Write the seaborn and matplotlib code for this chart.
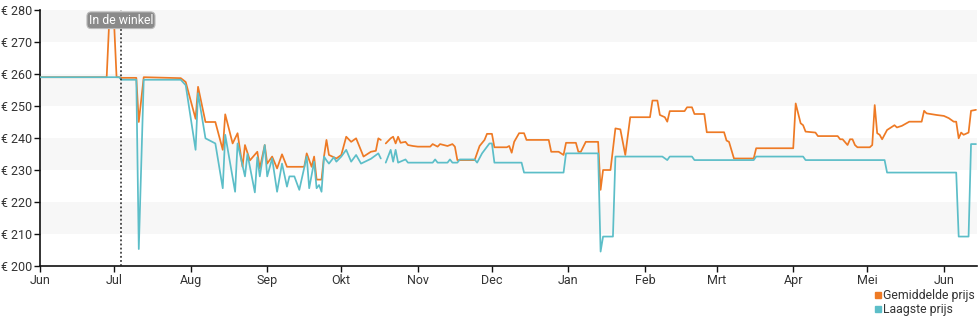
import numpy as np
import pandas as pd
import matplotlib
matplotlib.use("Agg")
import matplotlib.pyplot as plt
from matplotlib.lines import Line2D
import seaborn as sns

# ---------------- data ----------------
gem_datum = [
    "2023-06-01", "2023-06-28", "2023-06-29", "2023-07-01", "2023-07-02", "2023-07-03",
    "2023-07-04", "2023-07-10", "2023-07-11", "2023-07-13", "2023-07-28", "2023-07-30",
    "2023-08-03", "2023-08-04", "2023-08-07", "2023-08-11", "2023-08-14", "2023-08-15",
    "2023-08-18", "2023-08-20", "2023-08-22", "2023-08-23", "2023-08-25", "2023-08-28",
    "2023-08-29", "2023-08-31", "2023-09-01", "2023-09-03", "2023-09-05", "2023-09-07",
    "2023-09-09", "2023-09-16", "2023-09-17", "2023-09-19", "2023-09-20", "2023-09-21",
    "2023-09-23", "2023-09-24", "2023-09-25", "2023-09-26", "2023-09-29", "2023-10-01",
    "2023-10-03", "2023-10-05", "2023-10-07", "2023-10-10", "2023-10-13", "2023-10-15",
    "2023-10-16", "2023-10-17", "2023-10-18", "2023-10-19", "2023-10-21", "2023-10-22",
    "2023-10-23", "2023-10-24", "2023-10-25", "2023-10-27", "2023-10-28", "2023-10-30",
    "2023-11-01", "2023-11-06", "2023-11-07", "2023-11-09", "2023-11-10", "2023-11-13",
    "2023-11-15", "2023-11-16", "2023-11-17", "2023-11-24", "2023-11-26", "2023-11-28",
    "2023-11-29", "2023-12-01", "2023-12-02", "2023-12-07", "2023-12-08", "2023-12-09",
    "2023-12-10", "2023-12-12", "2023-12-14", "2023-12-15", "2023-12-24", "2023-12-25",
    "2023-12-28", "2023-12-30", "2023-12-31", "2024-01-04", "2024-01-05", "2024-01-06",
    "2024-01-08", "2024-01-13", "2024-01-14", "2024-01-15", "2024-01-18", "2024-01-20",
    "2024-01-22", "2024-01-24", "2024-01-26", "2024-02-03", "2024-02-04", "2024-02-06",
    "2024-02-07", "2024-02-09", "2024-02-10", "2024-02-11", "2024-02-17", "2024-02-18",
    "2024-02-20", "2024-02-21", "2024-02-25", "2024-02-26", "2024-03-04", "2024-03-05",
    "2024-03-06", "2024-03-08", "2024-03-16", "2024-03-17", "2024-04-01", "2024-04-02",
    "2024-04-04", "2024-04-05", "2024-04-06", "2024-04-10", "2024-04-11", "2024-04-19",
    "2024-04-20", "2024-04-21", "2024-04-23", "2024-04-24", "2024-04-25", "2024-04-26",
    "2024-04-27", "2024-05-02", "2024-05-03", "2024-05-04", "2024-05-05", "2024-05-06",
    "2024-05-07", "2024-05-09", "2024-05-10", "2024-05-12", "2024-05-13", "2024-05-15",
    "2024-05-18", "2024-05-23", "2024-05-24", "2024-05-25", "2024-05-29", "2024-06-01",
    "2024-06-03", "2024-06-05", "2024-06-06", "2024-06-07", "2024-06-08", "2024-06-09",
    "2024-06-11", "2024-06-12", "2024-06-14",
]
gem_prijs = [
    259, 259, 276, 276, 259, 259,
    258.8, 258.8, 245, 259, 258.7, 257.5,
    246, 256, 245, 245, 236.3, 247.4,
    238.3, 241.5, 231, 237.8, 233, 235.7,
    230.5, 237.8, 232, 234.2, 230.5, 234.9,
    231, 231, 235.2, 231, 234.2, 227,
    227, 234.2, 239.4, 234.7, 233.6, 234.7,
    240.4, 238.8, 239.9, 234.2, 235.7, 236,
    239.9, 239.4, np.nan, 238.3, 239.9, 240.4,
    238.3, 240.4, 238.5, 238.8, 237.8, 237.5,
    237.3, 237.3, 238.1, 237.3, 238.1, 237.5,
    238.1, 237.3, 233.1, 233.1, 237.5, 239.4,
    241.3, 241.3, 237.1, 237.1, 237.5, 235.4,
    238.8, 241.5, 241.5, 239.4, 239.4, 235.7,
    235.7, 234.7, 238.5, 238.5, 235.7, 235.7,
    238.8, 238.8, 223.8, 230, 230, 243,
    242.7, 234.7, 246.5, 246.5, 251.7, 251.7,
    247.2, 246.5, 245.1, 248.4, 248.4, 249.6,
    249.6, 247.5, 247.5, 241.8, 241.8, 239.2,
    238.8, 233.6, 233.6, 236.8, 236.8, 250.8,
    244.6, 244, 242, 241.7, 240.6, 240.6,
    239.6, 239.6, 237.8, 239.6, 239.6, 237.8,
    237.1, 237.1, 237.8, 250.3, 241.5, 241,
    239.6, 242.5, 243, 244, 243.3, 243.8,
    245.1, 245.1, 248.5, 247.7, 247.2, 246.9,
    246.2, 245.1, 245.1, 239.9, 241.7, 241,
    241.7, 248.5, 248.8,
]

laag_datum = [
    "2023-06-01", "2023-07-03", "2023-07-04", "2023-07-10", "2023-07-11", "2023-07-13",
    "2023-07-28", "2023-07-30", "2023-08-03", "2023-08-04", "2023-08-07", "2023-08-11",
    "2023-08-14", "2023-08-15", "2023-08-19", "2023-08-20", "2023-08-23", "2023-08-24",
    "2023-08-27", "2023-08-28", "2023-08-29", "2023-08-31", "2023-09-01", "2023-09-03",
    "2023-09-05", "2023-09-07", "2023-09-09", "2023-09-10", "2023-09-12", "2023-09-14",
    "2023-09-17", "2023-09-18", "2023-09-20", "2023-09-21", "2023-09-22", "2023-09-23",
    "2023-09-24", "2023-09-25", "2023-09-26", "2023-09-28", "2023-09-29", "2023-10-01",
    "2023-10-03", "2023-10-05", "2023-10-07", "2023-10-09", "2023-10-13", "2023-10-16",
    "2023-10-17", "2023-10-18", "2023-10-19", "2023-10-21", "2023-10-22", "2023-10-23",
    "2023-10-24", "2023-10-27", "2023-10-28", "2023-11-07", "2023-11-08", "2023-11-09",
    "2023-11-13", "2023-11-14", "2023-11-15", "2023-11-17", "2023-11-18", "2023-11-24",
    "2023-11-25", "2023-11-27", "2023-11-30", "2023-12-01", "2023-12-02", "2023-12-13",
    "2023-12-14", "2023-12-30", "2023-12-31", "2024-01-13", "2024-01-14", "2024-01-15",
    "2024-01-19", "2024-01-20", "2024-02-08", "2024-02-10", "2024-02-11", "2024-02-20",
    "2024-02-21", "2024-03-16", "2024-03-17", "2024-04-05", "2024-04-06", "2024-05-08",
    "2024-05-09", "2024-06-06", "2024-06-07", "2024-06-11", "2024-06-12", "2024-06-14",
]
laag_prijs = [
    259, 259, 258.2, 258.2, 205.3, 258.2,
    258.2, 256.5, 236.3, 254, 239.9, 238.3,
    224.3, 241, 223.2, 238.3, 228, 235,
    223, 234, 228, 237.8, 228, 233.6,
    223.2, 232, 224.8, 228, 228, 223.8,
    234.2, 224.3, 232.6, 224.3, 225.3, 223.2,
    234.2, 233, 232, 234, 232.6, 234.2,
    236.3, 232.6, 234.7, 232, 233.5, 235.2,
    233.6, np.nan, 232.3, 236.3, 232.6, 236.3,
    232.3, 233.3, 232.3, 232.3, 233.3, 232.3,
    232.3, 233.3, 232.3, 232.3, 233.3, 233.3,
    232.3, 235.2, 238.3, 238.3, 232.3, 232.3,
    229.2, 229.2, 235.2, 235.2, 204.5, 209.2,
    209.2, 234.2, 234.2, 233.1, 234.2, 234.2,
    233.1, 233.1, 234.2, 234.2, 233.1, 233.1,
    229.2, 229.2, 209.2, 209.2, 238.1, 238.1,
]

reeksen = ["Gemiddelde prijs", "Laagste prijs"]
kleuren = ["#ee7a25", "#5cbec8"]
maand_labels = ["Jun", "Jul", "Aug", "Sep", "Okt", "Nov", "Dec",
                "Jan", "Feb", "Mrt", "Apr", "Mei", "Jun"]
winkel_datum = "2023-07-03 19:00"
winkel_label = "In de winkel"


def bouw(datums, prijzen, naam):
    d = pd.DataFrame({"datum": pd.to_datetime(datums), "prijs": prijzen})
    d["deel"] = d["prijs"].isna().cumsum()
    d = d.dropna()
    d["deel"] = naam + "_" + d["deel"].astype(str)
    d["reeks"] = naam
    return d


df = pd.concat([bouw(gem_datum, gem_prijs, reeksen[0]),
                bouw(laag_datum, laag_prijs, reeksen[1])], ignore_index=True)

# ---------------- plot ----------------
sns.set_style("white")
plt.rcParams["font.family"] = ["Roboto", "DejaVu Sans"]

fig = plt.figure(figsize=(9.8, 3.25), dpi=100)
ax = fig.add_axes([40 / 980, 1 - 266 / 325, 937 / 980, 256 / 325])

for lo in (210, 230, 250, 270):
    ax.axhspan(lo, lo + 10, color="#f7f7f7", lw=0, zorder=0)

sns.lineplot(data=df, x="datum", y="prijs", hue="reeks", units="deel",
             estimator=None, hue_order=reeksen, palette=kleuren,
             linewidth=1.25, legend=False, ax=ax, sort=True, zorder=3)

ax.set_xlim(pd.Timestamp("2023-06-01"), pd.Timestamp("2024-06-14 10:00"))
ax.set_ylim(200, 280)
ax.set_yticks(range(200, 281, 10))
ax.set_yticklabels([f"€ {v}" for v in range(200, 281, 10)])

ticks = pd.date_range("2023-06-01", "2024-06-01", freq="MS")
ax.set_xticks(ticks)
ax.set_xticklabels(maand_labels)
ax.set_xlabel("")
ax.set_ylabel("")

for s in ("top", "right"):
    ax.spines[s].set_visible(False)
for s in ("left", "bottom"):
    ax.spines[s].set_color("#111111")
    ax.spines[s].set_linewidth(1.2)
ax.tick_params(axis="both", which="major", direction="out", length=4,
               width=1, color="#111111", labelsize=9, labelcolor="#333333",
               pad=1.5, left=True, bottom=True)
ax.grid(False)

wx = pd.Timestamp(winkel_datum)
ax.axvline(wx, color="#222222", linestyle=(0, (1.2, 1.5)), linewidth=1.1, zorder=4)
ax.text(wx, 276.8, winkel_label, ha="center", va="center", fontsize=8.8,
        color="white", zorder=6,
        bbox=dict(boxstyle="round,pad=0.15,rounding_size=0.35",
                  fc="#8a8a8a", ec="#bbbbbb", lw=0.8))

handles = [Line2D([], [], marker="s", linestyle="none", markersize=5,
                  markerfacecolor=c, markeredgecolor=c) for c in kleuren]
fig.legend(handles, reeksen, loc="upper right",
           bbox_to_anchor=(0.995, 1 - 289 / 325), frameon=False,
           fontsize=8.8, handlelength=0.6, handletextpad=0.15,
           labelspacing=0.1, borderpad=0, borderaxespad=0,
           labelcolor="#333333")

fig.savefig("out.png", dpi=100)
